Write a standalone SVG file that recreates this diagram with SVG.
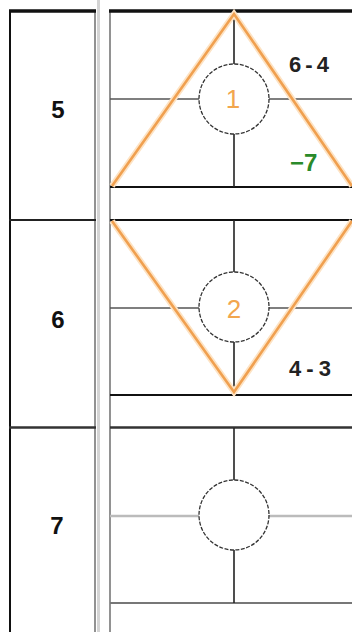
<svg xmlns="http://www.w3.org/2000/svg" width="352" height="632" viewBox="0 0 352 632">
<style>
.lbl{font-family:"Liberation Sans",Arial,sans-serif;font-weight:bold;font-size:24px;fill:#111;text-anchor:middle}
.num{font-family:"Liberation Sans",Arial,sans-serif;font-weight:bold;font-size:22px;fill:#222}
.cnum{font-family:"Liberation Sans",Arial,sans-serif;font-size:26px;fill:#f2a64e;text-anchor:middle}
.node{fill:#fff;stroke:#333;stroke-width:1.3;stroke-dasharray:4 1.5}
.thin{stroke:#555;stroke-width:1.5}
.light{stroke:#bbb;stroke-width:2.5}
.bold{stroke:#111;stroke-width:2.2}
.tri{fill:none;stroke:#f0a050;stroke-width:2.6;stroke-linejoin:miter}
.halo{fill:none;stroke:#fde3c4;stroke-width:6}
</style>
<rect width="352" height="632" fill="#fff"/>
<g id="left-column">
<line x1="10" y1="11" x2="10" y2="632" stroke="#111" stroke-width="2"/>
<line x1="95" y1="11" x2="95" y2="632" stroke="#777" stroke-width="1.6"/>
<line x1="98.5" y1="0" x2="98.5" y2="632" stroke="#d4d4d4" stroke-width="3"/>
<line x1="9" y1="11" x2="96" y2="11" stroke="#111" stroke-width="3.5"/>
<line x1="9" y1="220" x2="96" y2="220" stroke="#222" stroke-width="2"/>
<line x1="9" y1="427.5" x2="96" y2="427.5" stroke="#333" stroke-width="2.5"/>
<g id="row5"><text class="lbl" x="58" y="118">5</text></g>
<g id="row6"><text class="lbl" x="58" y="328">6</text></g>
<g id="row7"><text class="lbl" x="57" y="534">7</text></g>
</g>
<g id="grid">
<line x1="110" y1="11" x2="110" y2="632" stroke="#777" stroke-width="1.6"/>
<line x1="109" y1="11" x2="352" y2="11" stroke="#111" stroke-width="3.5"/>
<line x1="110" y1="99" x2="352" y2="99" class="thin"/>
<line x1="110" y1="187" x2="352" y2="187" class="bold"/>
<line x1="110" y1="220" x2="352" y2="220" class="bold"/>
<line x1="110" y1="308" x2="352" y2="308" class="thin"/>
<line x1="110" y1="395" x2="352" y2="395" class="bold"/>
<line x1="110" y1="427.5" x2="352" y2="427.5" stroke="#333" stroke-width="2.5"/>
<line x1="110" y1="516" x2="352" y2="516" class="light"/>
<line x1="110" y1="603" x2="352" y2="603" stroke="#777" stroke-width="2"/>
<line x1="234" y1="11" x2="234" y2="187" stroke="#222" stroke-width="1.6"/>
<line x1="234" y1="220" x2="234" y2="395" stroke="#222" stroke-width="1.6"/>
<line x1="234" y1="428" x2="234" y2="603" stroke="#222" stroke-width="1.6"/>
</g>
<g id="connectors">
<polyline class="halo" points="112,186 234,14 352,186"/>
<polyline class="tri" points="112,186 234,14 352,186"/>
<polyline class="halo" points="112,221 234,392 352,221"/>
<polyline class="tri" points="112,221 234,392 352,221"/>
</g>
<g id="node1">
<circle class="node" cx="234" cy="99" r="35"/>
<text class="cnum" x="233" y="108">1</text>
</g>
<g id="node2">
<circle class="node" cx="234" cy="307" r="35"/>
<text class="cnum" x="234" y="318">2</text>
</g>
<g id="node3">
<circle class="node" cx="234" cy="515" r="35"/>
</g>
<g id="labels">
<text class="num" x="289" y="72" textLength="40" lengthAdjust="spacing">6-4</text>
<text class="num" x="290" y="171" style="fill:#2a8a2a;font-size:24px">−7</text>
<text class="num" x="289" y="376" textLength="42" lengthAdjust="spacing">4-3</text>
</g>
</svg>
